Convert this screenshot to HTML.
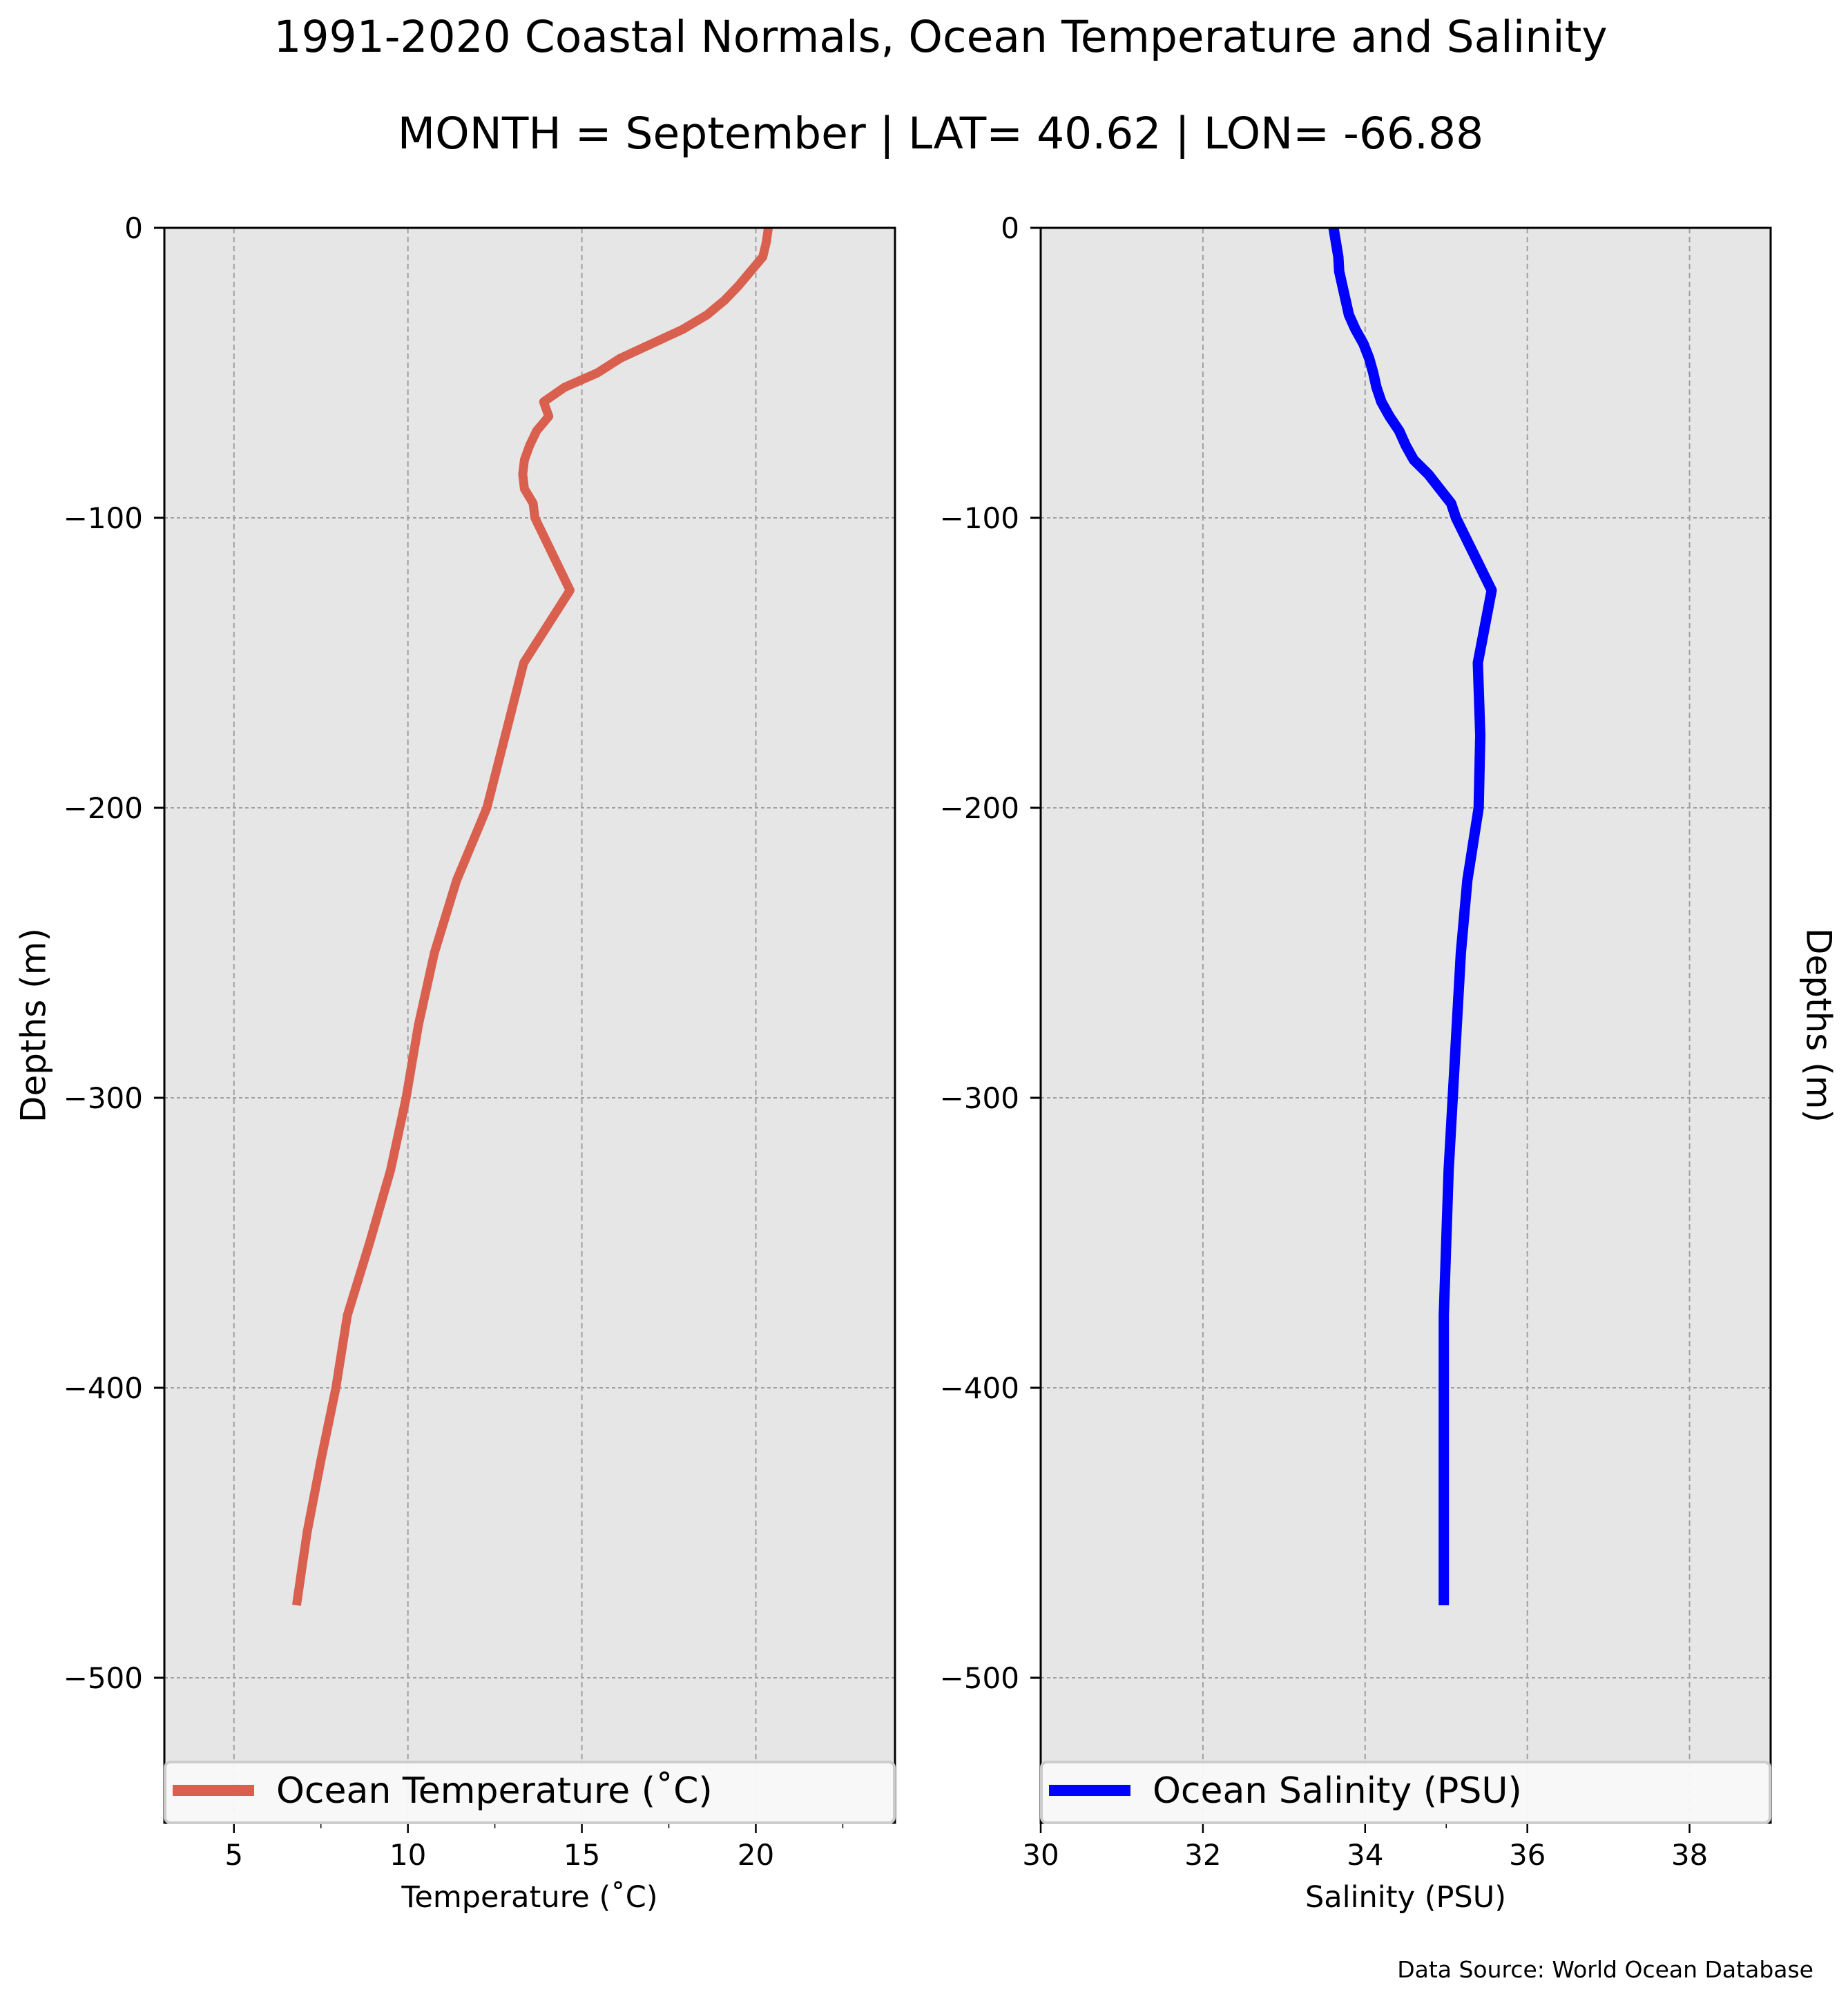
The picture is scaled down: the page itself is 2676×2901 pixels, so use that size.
<!DOCTYPE html>
<html><head><meta charset="utf-8"><style>
html,body{margin:0;padding:0;background:#fff;}
svg{display:block;font-family:"DejaVu Sans","Liberation Sans",sans-serif;}
</style></head><body>
<svg id="chart" width="2676" height="2901" viewBox="0 0 2676 2901" xmlns="http://www.w3.org/2000/svg">
<text x="1362" y="75" font-size="63" text-anchor="middle">1991-2020 Coastal Normals, Ocean Temperature and Salinity</text>
<text x="1362" y="215" font-size="63" text-anchor="middle">MONTH = September | LAT= 40.62 | LON= -66.88</text>
<g id="left"></g>
<g id="right"></g>
<text x="52" y="1485" font-size="50" text-anchor="middle" transform="rotate(-90 52 1485)" dominant-baseline="middle">Depths (m)</text>
<text x="2630" y="1485" font-size="50" text-anchor="middle" transform="rotate(90 2630 1485)" dominant-baseline="middle">Depths (m)</text>
<text x="2626" y="2864" font-size="33" text-anchor="end">Data Source: World Ocean Database</text>
</svg>
<script>
const depths = [0,5,10,15,20,25,30,35,40,45,50,55,60,65,70,75,80,85,90,95,100,125,150,175,200,225,250,275,300,325,350,375,400,425,450,475];
const temperature = [20.36,20.3,20.2,19.85,19.5,19.1,18.6,17.9,17.0,16.1,15.45,14.5,13.9,14.05,13.7,13.5,13.35,13.3,13.35,13.6,13.65,14.66,13.33,12.8,12.27,11.4,10.76,10.3,9.95,9.5,8.9,8.26,7.93,7.5,7.1,6.8];
const salinity = [33.61,33.64,33.67,33.68,33.72,33.76,33.8,33.88,33.98,34.05,34.1,34.14,34.2,34.3,34.42,34.5,34.6,34.78,34.92,35.06,35.12,35.56,35.39,35.42,35.4,35.26,35.18,35.13,35.08,35.03,35.0,34.97,34.97,34.97,34.97,34.97];
const depthTicks = [0,-100,-200,-300,-400,-500];
const tempTicks = [5,10,15,20];
const tempMinor = [7.5,12.5,17.5,22.5];
const salTicks = [30,32,34,36,38];
const salMinor = [35];

const NS="http://www.w3.org/2000/svg";
function mk(parent,tag,attrs){const e=document.createElementNS(NS,tag);for(const k in attrs)e.setAttribute(k,attrs[k]);parent.appendChild(e);return e;}
const Y0=330, Y1=2640;
function yScale(d){return Y0+(0-d)/(550)*(Y1-Y0);}

function panel(g,x0,x1,xmin,xmax,ticks,minor,vals,color,lw,legendLabel,xTitle,key){
  const xs=v=>x0+(v-xmin)/(xmax-xmin)*(x1-x0);
  const bg=mk(g,'rect',{x:x0,y:Y0,width:x1-x0,height:Y1-Y0,fill:'#e6e6e6'});
  
  
  ticks.forEach(t=>{
    const gl=mk(g,'line',{x1:xs(t),x2:xs(t),y1:Y0,y2:Y1,stroke:'#a0a0a0','stroke-width':2,'stroke-dasharray':'8,5'});
    
    
    const tk=mk(g,'line',{x1:xs(t),x2:xs(t),y1:Y1,y2:Y1+15,stroke:'#000','stroke-width':2.5});
    
    
    const tl=mk(g,'text',{x:xs(t),y:Y1+61,'font-size':42,'text-anchor':'middle'});
    tl.textContent=t;
    
    
  });
  minor.forEach(t=>{
    const tk=mk(g,'line',{x1:xs(t),x2:xs(t),y1:Y1,y2:Y1+8,stroke:'#000','stroke-width':1.5});
    
    
  });
  depthTicks.forEach(t=>{
    const gl=mk(g,'line',{x1:x0,x2:x1,y1:yScale(t),y2:yScale(t),stroke:'#a0a0a0','stroke-width':2,'stroke-dasharray':'5,4'});
    
    
    const tk=mk(g,'line',{x1:x0-15,x2:x0,y1:yScale(t),y2:yScale(t),stroke:'#000','stroke-width':3});
    
    
    const tl=mk(g,'text',{x:x0-31,y:yScale(t)+15,'font-size':42,'text-anchor':'end'});
    tl.textContent=t===0?'0':'\u2212'+Math.abs(t);
    
    
  });
  const pts=depths.map((d,i)=>xs(vals[i]).toFixed(1)+','+yScale(-d).toFixed(1)).join(' ');
  const ln=mk(g,'polyline',{points:pts,fill:'none',stroke:color,'stroke-width':lw,'stroke-linejoin':'round'});
  
  
  const fr=mk(g,'rect',{x:x0,y:Y0,width:x1-x0,height:Y1-Y0,fill:'none',stroke:'#000','stroke-width':3});
  
  
  const lg=mk(g,'g',{});
  
  
  const lb=mk(lg,'rect',{x:x0+1,y:2552,width:x1-x0-2,height:88,rx:8,fill:'#f9f9f9','fill-opacity':0.95,stroke:'#cccccc','stroke-width':4});
  
  
  const ll=mk(lg,'line',{x1:x0+12,x2:x0+130,y1:2593,y2:2593,stroke:color,'stroke-width':16});
  
  
  const lt=mk(lg,'text',{x:x0+162,y:2611,'font-size':52});
  lt.textContent=legendLabel;
  
  
  const xt=mk(g,'text',{x:(x0+x1)/2,y:2762,'font-size':43,'text-anchor':'middle'});
  xt.textContent=xTitle;
  
  
}
panel(document.getElementById('left'),238,1296,3,24,tempTicks,tempMinor,temperature,'#d95f4e',13,'Ocean Temperature (\u02daC)','Temperature (\u02daC)','temperature');
panel(document.getElementById('right'),1507,2564,30,39,salTicks,salMinor,salinity,'#0000ff',15,'Ocean Salinity (PSU)','Salinity (PSU)','salinity');
</script>
</body></html>
